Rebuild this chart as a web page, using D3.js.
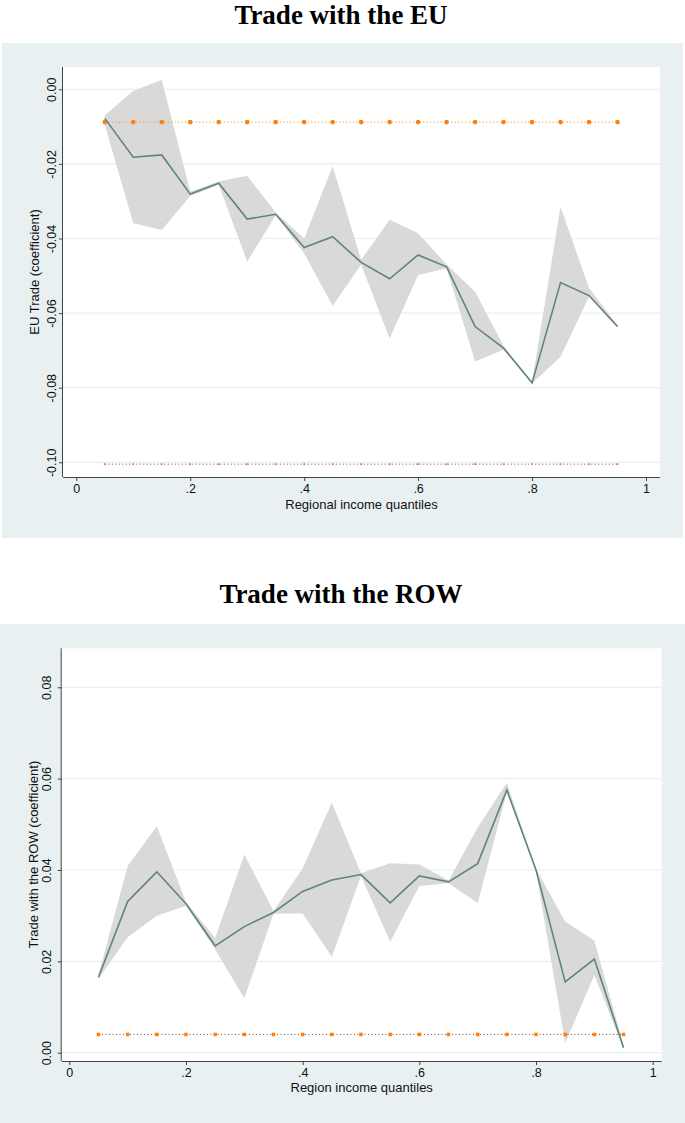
<!DOCTYPE html>
<html>
<head>
<meta charset="utf-8">
<script src="https://cdn.jsdelivr.net/npm/d3@7"></script>
<style>
  body { margin: 0; background: #ffffff; }
  svg { display: block; }
  .tick text { font-family: "Liberation Sans", Arial, sans-serif; }
</style>
</head>
<body>
<div id="chart"></div>
<script>
// quantiles on the x axis
var quantiles = [0.05, 0.10, 0.15, 0.20, 0.25, 0.30, 0.35, 0.40, 0.45, 0.50,
                 0.55, 0.60, 0.65, 0.70, 0.75, 0.80, 0.85, 0.90, 0.95];

// EU trade: coefficient and its band
var euCoef  = [-0.0078, -0.0182, -0.0176, -0.0281, -0.0252, -0.0348, -0.0335, -0.0424, -0.0395, -0.0464,
               -0.0508, -0.0444, -0.0476, -0.0636, -0.0694, -0.0787, -0.0518, -0.0553, -0.0636];
var euUpper = [-0.0070, -0.0004, 0.0025, -0.0274, -0.0247, -0.0232, -0.0330, -0.0400, -0.0206, -0.0457,
               -0.0350, -0.0386, -0.0470, -0.0543, -0.0688, -0.0785, -0.0315, -0.0533, -0.0633];
var euLower = [-0.0095, -0.0359, -0.0377, -0.0286, -0.0256, -0.0462, -0.0338, -0.0440, -0.0581, -0.0470,
               -0.0668, -0.0498, -0.0480, -0.0730, -0.0698, -0.0789, -0.0717, -0.0556, -0.0639];
var euRef   = quantiles.map(function() { return -0.0088; });
var euFloor = quantiles.map(function() { return -0.1005; });

// ROW trade: coefficient and its band
var rowCoef  = [0.0165, 0.0331, 0.0396, 0.0326, 0.0234, 0.0276, 0.0307, 0.0353, 0.0378, 0.0390,
                0.0328, 0.0387, 0.0374, 0.0414, 0.0575, 0.0400, 0.0155, 0.0205, 0.0011];
var rowUpper = [0.0170, 0.0409, 0.0496, 0.0330, 0.0251, 0.0434, 0.0310, 0.0404, 0.0547, 0.0393,
                0.0415, 0.0412, 0.0377, 0.0493, 0.0591, 0.0403, 0.0287, 0.0245, 0.0016];
var rowLower = [0.0162, 0.0253, 0.0300, 0.0322, 0.0226, 0.0119, 0.0304, 0.0305, 0.0210, 0.0387,
                0.0243, 0.0365, 0.0371, 0.0328, 0.0570, 0.0397, 0.0021, 0.0170, 0.0008];
var rowRef   = quantiles.map(function() { return 0.0040; });

var euTicks  = [0, -0.02, -0.04, -0.06, -0.08, -0.10];
var rowTicks = [0, 0.02, 0.04, 0.06, 0.08];
var xTicks   = [0, 0.2, 0.4, 0.6, 0.8, 1];

var svgWidth = 685;
var svgHeight = 1123;

var svg = d3.select("#chart")
    .append("svg")
    .attr("width", svgWidth)
    .attr("height", svgHeight);

var lineColor = "#5f8577";
var bandColor = "#d9d9d9";
var orange = "#ff7f0e";
var panelColor = "#e9f0f2";
var gridColor = "#e8f0f1";

function xLabel(d) {
    if (d === 0) return "0";
    if (d === 1) return "1";
    return String(d).replace("0.", ".");
}

function drawPanel(p) {
    var g = svg.append("g");

    // title above the grey box
    g.append("text")
        .attr("x", p.titleX)
        .attr("y", p.titleY)
        .attr("text-anchor", "middle")
        .style("font-family", "'Liberation Serif', 'Times New Roman', serif")
        .style("font-weight", "bold")
        .style("font-size", "27px")
        .text(p.title);

    // outer grey box and white plot region
    g.append("rect")
        .attr("x", p.box[0]).attr("y", p.box[1])
        .attr("width", p.box[2]).attr("height", p.box[3])
        .attr("fill", panelColor);

    g.append("rect")
        .attr("x", p.plot.left).attr("y", p.plot.top)
        .attr("width", p.plot.right - p.plot.left)
        .attr("height", p.plot.bottom - p.plot.top)
        .attr("fill", "#ffffff");

    var x = d3.scaleLinear().domain([0, 1]).range(p.xRange);
    var y = d3.scaleLinear().domain(p.yDomain).range(p.yRange);

    // gridlines
    g.selectAll(".grid")
        .data(p.yTicks)
        .enter()
        .append("line")
        .attr("x1", p.plot.left)
        .attr("x2", p.plot.right)
        .attr("y1", d => y(d))
        .attr("y2", d => y(d))
        .attr("stroke", gridColor)
        .attr("stroke-width", 1.2);

    // confidence band
    var area = d3.area()
        .x((d, i) => x(quantiles[i]))
        .y0((d, i) => y(p.lower[i]))
        .y1((d, i) => y(p.upper[i]));

    g.append("path")
        .datum(p.coef)
        .attr("d", area)
        .attr("fill", bandColor);

    var line = d3.line()
        .x((d, i) => x(quantiles[i]))
        .y(d => y(d));

    // reference lines with markers
    p.refs.forEach(function(r) {
        g.append("path")
            .datum(r.values)
            .attr("d", line)
            .attr("fill", "none")
            .attr("stroke", r.lineColor)
            .attr("stroke-width", 1)
            .attr("stroke-dasharray", "1,2.5");

        if (r.shape === "circle") {
            g.selectAll(null)
                .data(r.values)
                .enter()
                .append("circle")
                .attr("cx", (d, i) => x(quantiles[i]))
                .attr("cy", d => y(d))
                .attr("r", r.size)
                .attr("fill", orange);
        } else {
            g.selectAll(null)
                .data(r.values)
                .enter()
                .append("rect")
                .attr("x", (d, i) => x(quantiles[i]) - r.size / 2)
                .attr("y", d => y(d) - r.size / 2)
                .attr("width", r.size)
                .attr("height", r.size)
                .attr("fill", orange);
        }
    });

    // coefficient line
    g.append("path")
        .datum(p.coef)
        .attr("d", line)
        .attr("fill", "none")
        .attr("stroke", lineColor)
        .attr("stroke-width", 1.6);

    // axes
    var bottomAxis = d3.axisBottom(x)
        .tickValues(xTicks)
        .tickFormat(xLabel)
        .tickSize(4)
        .tickPadding(3);

    var leftAxis = d3.axisLeft(y)
        .tickValues(p.yTicks)
        .tickFormat(d => d.toFixed(2))
        .tickSize(4);

    var xAxis = g.append("g")
        .attr("transform", `translate(0, ${p.plot.bottom})`)
        .call(bottomAxis);
    xAxis.select(".domain")
        .attr("d", `M${p.plot.left},0.5H${p.plot.right}`)
        .attr("stroke", "#444");
    xAxis.selectAll(".tick line").attr("stroke", "#444");
    xAxis.selectAll(".tick text")
        .style("font-size", "12.5px")
        .attr("fill", "#111");

    var yAxis = g.append("g")
        .attr("transform", `translate(${p.plot.left}, 0)`)
        .call(leftAxis);
    yAxis.select(".domain")
        .attr("d", `M-0.5,${p.plot.top}V${p.plot.bottom}`)
        .attr("stroke", "#444");
    yAxis.selectAll(".tick line").attr("stroke", "#444");
    yAxis.selectAll(".tick text")
        .attr("x", null)
        .attr("dy", null)
        .attr("text-anchor", "middle")
        .attr("transform", `translate(${-p.yLabelOffset}, 0) rotate(-90)`)
        .style("font-size", "12.5px")
        .attr("fill", "#111");

    // axis titles
    g.append("text")
        .attr("x", (p.plot.left + p.plot.right) / 2)
        .attr("y", p.xTitleY)
        .attr("text-anchor", "middle")
        .style("font-family", "'Liberation Sans', Arial, sans-serif")
        .style("font-size", "13px")
        .attr("fill", "#111")
        .text(p.xTitle);

    g.append("text")
        .attr("transform", `translate(${p.yTitleX}, ${(p.plot.top + p.plot.bottom) / 2}) rotate(-90)`)
        .attr("text-anchor", "middle")
        .style("font-family", "'Liberation Sans', Arial, sans-serif")
        .style("font-size", "13px")
        .attr("fill", "#111")
        .text(p.yTitle);
}

drawPanel({
    title: "Trade with the EU",
    titleX: 341, titleY: 24,
    box: [2, 43, 681, 495],
    plot: { left: 63, right: 660, top: 67, bottom: 477 },
    xRange: [76.3, 646],
    yDomain: [0, -0.1], yRange: [89.3, 462.3],
    yTicks: euTicks,
    coef: euCoef, upper: euUpper, lower: euLower,
    refs: [
        { values: euRef, lineColor: orange, shape: "circle", size: 2.3 },
        { values: euFloor, lineColor: "#555", shape: "rect", size: 1.8 }
    ],
    yLabelOffset: 7.5,
    xTitle: "Regional income quantiles", xTitleY: 509,
    yTitle: "EU Trade (coefficient)", yTitleX: 38.5
});

drawPanel({
    title: "Trade with the ROW",
    titleX: 341, titleY: 603,
    box: [0, 624, 685, 499],
    plot: { left: 61.7, right: 661.7, top: 648.3, bottom: 1061 },
    xRange: [69.3, 652.7],
    yDomain: [0, 0.08], yRange: [1052.7, 687.3],
    yTicks: rowTicks,
    coef: rowCoef, upper: rowUpper, lower: rowLower,
    refs: [
        { values: rowRef, lineColor: "#555", shape: "rect", size: 3.5 }
    ],
    yLabelOffset: 10.5,
    xTitle: "Region income quantiles", xTitleY: 1092,
    yTitle: "Trade with the ROW (coefficient)", yTitleX: 37.5
});
</script>
</body>
</html>
